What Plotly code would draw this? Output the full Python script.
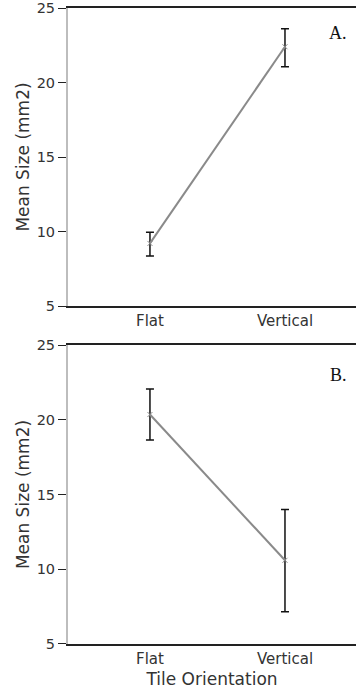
import plotly.graph_objects as go
from plotly.subplots import make_subplots

categories = ["Flat", "Vertical"]
a_means = [9.2, 22.4]
a_err_plus = [0.75, 1.2]
a_err_minus = [0.85, 1.35]
b_means = [20.35, 10.6]
b_err_plus = [1.7, 3.4]
b_err_minus = [1.7, 3.45]
y_ticks = [5, 10, 15, 20, 25]
panel_labels = ["A.", "B."]

fig = make_subplots(rows=2, cols=1, vertical_spacing=0.06)

for i, (m, ep, em) in enumerate([(a_means, a_err_plus, a_err_minus), (b_means, b_err_plus, b_err_minus)]):
    fig.add_trace(go.Scatter(
        x=categories, y=m, mode="lines+markers",
        line=dict(color="#8a8a8a", width=2),
        marker=dict(symbol="x-thin", size=5, line=dict(color="#8a8a8a", width=1), color="#8a8a8a"),
        error_y=dict(type="data", symmetric=False, array=ep, arrayminus=em,
                     color="#111111", thickness=1.5, width=4),
        showlegend=False, hoverinfo="skip"), row=i + 1, col=1)

fig.update_layout(
    width=356, height=698,
    margin=dict(l=68, r=0, t=8, b=54),
    paper_bgcolor="white", plot_bgcolor="white",
    font=dict(family="DejaVu Sans", size=14, color="#333"),
)
fig.update_layout(
    yaxis=dict(domain=[0.5314, 1.0]),
    yaxis2=dict(domain=[0.0, 0.4701]),
)
for ax in ["xaxis", "xaxis2"]:
    fig.layout[ax].update(range=[-0.607, 1.526], showline=True, mirror=True,
                          linecolor="#222", linewidth=1.5, ticks="", showgrid=False,
                          zeroline=False, tickfont=dict(size=15))
for ax in ["yaxis", "yaxis2"]:
    fig.layout[ax].update(range=[5, 25], tickvals=y_ticks, showline=True, mirror=False,
                          linecolor="#bdbdbd", linewidth=2, ticks="outside", ticklen=8,
                          tickcolor="#222", tickwidth=1, showgrid=False, zeroline=False,
                          tickfont=dict(size=14.5), ticklabeloverflow="allow",
                          title=dict(text="Mean Size (mm2)", font=dict(size=17), standoff=3))
fig.layout.xaxis2.title = dict(text="Tile Orientation", font=dict(size=17), standoff=6)

for i, lab in enumerate(panel_labels):
    fig.add_annotation(text=lab, x=0.975, xref="paper", xanchor="right",
                       y=[23.3, 23.0][i], yref=["y", "y2"][i], yanchor="middle",
                       showarrow=False, font=dict(family="Liberation Serif", size=18, color="#111"))

fig.write_html("out.html", config={"displayModeBar": False},
               post_script="document.body.style.margin='0';document.body.style.overflow='hidden';")
